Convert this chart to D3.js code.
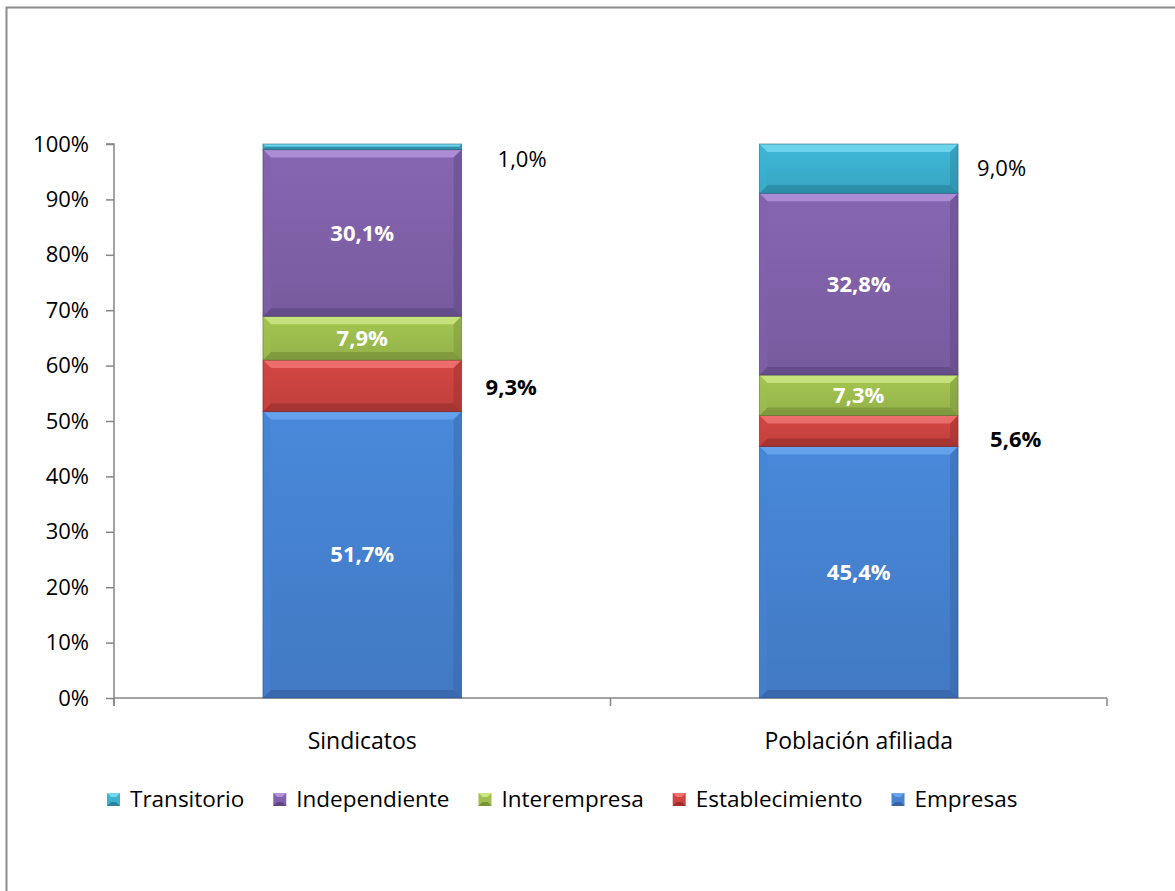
<!DOCTYPE html>
<html><head><meta charset="utf-8">
<script src="https://cdn.jsdelivr.net/npm/d3@7"></script>
<style>html,body{margin:0;padding:0;background:#fff;overflow:hidden}</style>
</head><body>
<script>
const categories = ["Sindicatos", "Población afiliada"];
const seriesNames = ["Empresas", "Establecimiento", "Interempresa", "Independiente", "Transitorio"];
const empresas = [51.7, 45.4];
const establecimiento = [9.3, 5.6];
const interempresa = [7.9, 7.3];
const independiente = [30.1, 32.8];
const transitorio = [1.0, 9.0];
const yTicks = [0, 10, 20, 30, 40, 50, 60, 70, 80, 90, 100];
const legendOrder = ["Transitorio", "Independiente", "Interempresa", "Establecimiento", "Empresas"];
const colors = {
  Empresas: ["#6aa6ee", "#4683d2", "#3763a6"],
  Establecimiento: ["#f07472", "#cd4441", "#9a2f2d"],
  Interempresa: ["#cbe685", "#9fbf4f", "#77923a"],
  Independiente: ["#b393db", "#8162ab", "#5d4682"],
  Transitorio: ["#74d9f0", "#3cb1d1", "#2a849d"]
};

const W = 1175, H = 891;
const FONT = "'Open Sans', Lato, sans-serif";
const svg = d3.select("body").append("svg").attr("width", W).attr("height", H)
  .style("font-family", FONT);

// outer border
svg.append("rect").attr("x", 6.5).attr("y", 7.5).attr("width", 1200).attr("height", 1000)
  .attr("fill", "none").attr("stroke", "#8c8c8c").attr("stroke-width", 2);

const pL = 114, pR = 1107, pT = 144, pB = 698;
const x = d3.scaleBand().domain(categories).range([pL, pR]).paddingInner(0.6).paddingOuter(0.3);
const y = d3.scaleLinear().domain([0, 100]).range([pB, pT]).clamp(true);

const data = categories.map((c, i) => ({
  cat: c, Empresas: empresas[i], Establecimiento: establecimiento[i],
  Interempresa: interempresa[i], Independiente: independiente[i], Transitorio: transitorio[i]
}));
const stacked = d3.stack().keys(seriesNames)(data);

const defs = svg.append("defs");
seriesNames.forEach(k => {
  const g = defs.append("linearGradient").attr("id", "g-" + k).attr("x1", 0).attr("y1", 0).attr("x2", 0).attr("y2", 1);
  g.append("stop").attr("offset", "0%").attr("stop-color", d3.color(colors[k][1]).brighter(0.12));
  g.append("stop").attr("offset", "100%").attr("stop-color", d3.color(colors[k][1]).darker(0.22));
});

// y axis
const yAxis = svg.append("g").attr("transform", `translate(${pL},0)`)
  .call(d3.axisLeft(y).tickValues(yTicks).tickSize(8).tickPadding(17).tickFormat(d => d + "%"));
yAxis.select(".domain").attr("stroke", "#868686").attr("stroke-width", 1.5).attr("d", `M-8,${pT}H0V${pB + 8}`);
yAxis.selectAll(".tick line").attr("stroke", "#868686").attr("stroke-width", 1.5);
yAxis.selectAll("text").attr("font-size", 22).attr("fill", "#000").style("font-family", FONT);

// x axis
const xAxisG = svg.append("g").attr("transform", `translate(0,${pB})`);
xAxisG.append("line").attr("x1", pL).attr("x2", pR).attr("y1", 0).attr("y2", 0).attr("stroke", "#868686").attr("stroke-width", 1.5);
[pL, (pL + pR) / 2, pR].forEach(px => {
  xAxisG.append("line").attr("x1", px).attr("x2", px).attr("y1", 0).attr("y2", 8).attr("stroke", "#868686").attr("stroke-width", 1.5);
});
categories.forEach(c => {
  xAxisG.append("text").attr("x", x(c) + x.bandwidth() / 2).attr("y", 51).attr("text-anchor", "middle")
    .attr("font-size", 23).attr("fill", "#000").text(c);
});

// bars with bevel
const bw = x.bandwidth();
stacked.forEach(layer => {
  const k = layer.key;
  layer.forEach(d => {
    const x0 = x(d.data.cat), x1 = x0 + bw;
    const yt = y(d[1]), yb = y(d[0]);
    const h = yb - yt;
    if (h <= 0) return;
    const b = Math.min(8, h / 2);
    const g = svg.append("g");
    g.append("rect").attr("x", x0).attr("y", yt).attr("width", bw).attr("height", h).attr("fill", `url(#g-${k})`);
    g.append("path").attr("d", `M${x0},${yt}H${x1}L${x1 - b},${yt + b}H${x0 + b}Z`).attr("fill", colors[k][0]).attr("opacity", 0.85);
    g.append("path").attr("d", `M${x0},${yb}H${x1}L${x1 - b},${yb - b}H${x0 + b}Z`).attr("fill", colors[k][2]).attr("opacity", 0.7);
    g.append("path").attr("d", `M${x0},${yt}L${x0 + b},${yt + b}V${yb - b}L${x0},${yb}Z`).attr("fill", colors[k][1]).attr("opacity", 0.5);
    g.append("path").attr("d", `M${x1},${yt}L${x1 - b},${yt + b}V${yb - b}L${x1},${yb}Z`).attr("fill", colors[k][2]).attr("opacity", 0.45);
    g.append("rect").attr("x", x0).attr("y", yt).attr("width", bw).attr("height", h).attr("fill", "none")
      .attr("stroke", d3.color(colors[k][2]).darker(0.8)).attr("stroke-width", 1).attr("opacity", 0.55);
  });
});

// labels
const fmt = v => v.toFixed(1).replace(".", ",") + "%";
stacked.forEach(layer => {
  const k = layer.key;
  layer.forEach((d, i) => {
    const v = d.data[k];
    const cx = x(d.data.cat) + bw / 2, cy = (y(d[0]) + y(d[1])) / 2;
    if (k === "Empresas" || k === "Interempresa" || k === "Independiente") {
      svg.append("text").attr("x", cx).attr("y", cy).attr("dy", "0.35em").attr("text-anchor", "middle")
        .attr("font-size", 22).attr("font-weight", "bold").attr("fill", "#fff").text(fmt(v));
    } else if (k === "Establecimiento") {
      const xo = i === 0 ? 24 : 32, yo = i === 0 ? 1 : 8;
      svg.append("text").attr("x", x(d.data.cat) + bw + xo).attr("y", cy + yo).attr("dy", "0.35em")
        .attr("font-size", 22).attr("font-weight", "bold").attr("fill", "#000").text(fmt(v));
    } else {
      const xo = i === 0 ? 36 : 19, yo = i === 0 ? 13 : 0;
      svg.append("text").attr("x", x(d.data.cat) + bw + xo).attr("y", cy + yo).attr("dy", "0.35em")
        .attr("font-size", 22).attr("fill", "#000").text(fmt(v));
    }
  });
});

// legend
const lg = svg.append("g").attr("transform", "translate(107,799)");
let lx = 0;
legendOrder.forEach(k => {
  const g = lg.append("g").attr("transform", `translate(${lx},0)`);
  g.append("rect").attr("x", 0).attr("y", -6).attr("width", 13).attr("height", 13).attr("fill", colors[k][1]);
  g.append("path").attr("d", "M0,-6H13L9,-2H4Z").attr("fill", colors[k][0]);
  g.append("path").attr("d", "M0,7H13L9,3H4Z").attr("fill", colors[k][2]);
  const t = g.append("text").attr("x", 23).attr("y", 0).attr("dy", "0.35em").attr("font-size", 22.5).attr("fill", "#000").text(k);
  const tw = t.node().getComputedTextLength();
  lx += 23 + tw + 29;
});
</script>
</body></html>
